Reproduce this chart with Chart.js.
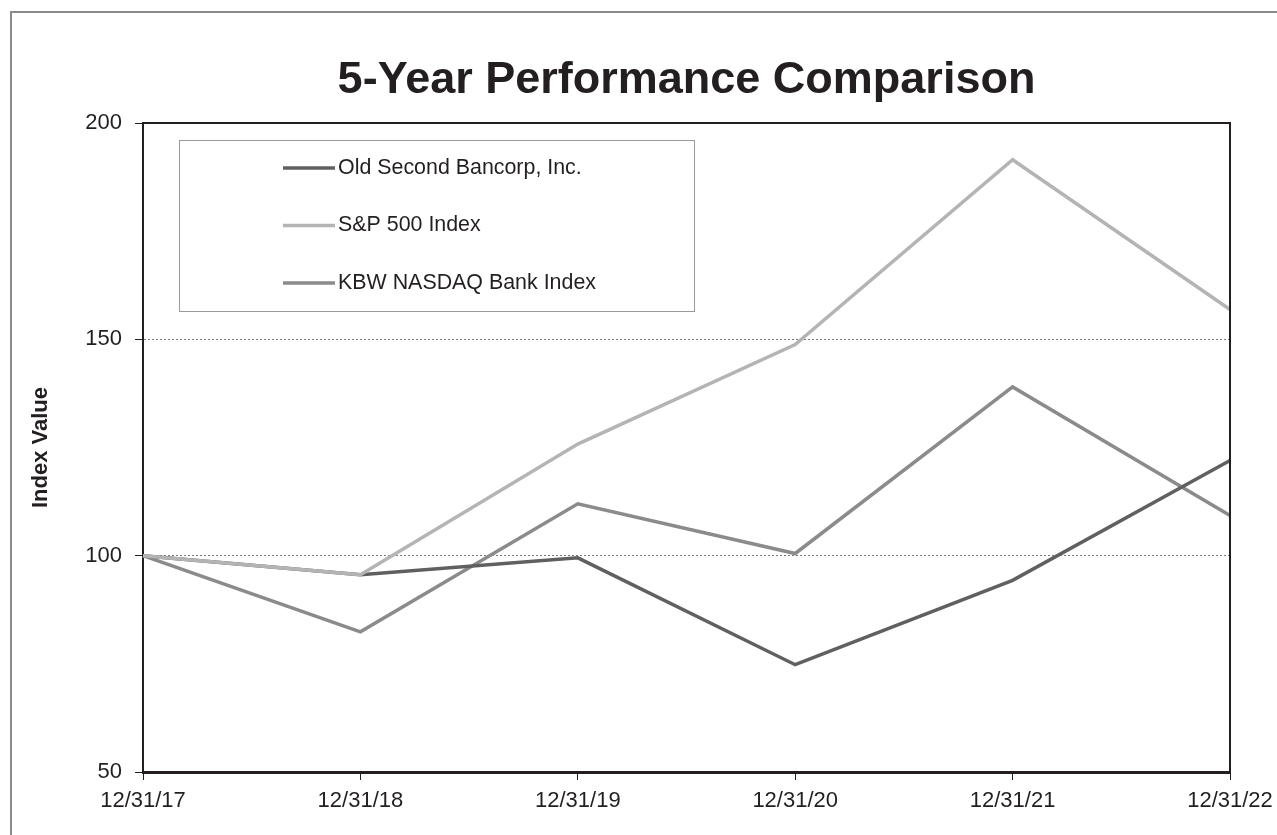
<!DOCTYPE html>
<html>
<head>
<meta charset="utf-8">
<title>5-Year Performance Comparison</title>
<script src="https://cdn.jsdelivr.net/npm/chart.js@4"></script>
<style>
  html, body { margin: 0; padding: 0; background: #fff; }
  #chart { display: block; }
</style>
</head>
<body>
<canvas id="chart" width="1277" height="835"></canvas>
<script>
const labels = ["12/31/17", "12/31/18", "12/31/19", "12/31/20", "12/31/21", "12/31/22"];
const oldSecond = [100, 95.6, 99.5, 74.8, 94.3, 122.0];
const sp500 = [100, 95.6, 125.8, 148.8, 191.5, 156.9];
const kbwBank = [100, 82.4, 112.0, 100.5, 139.0, 109.3];
const yTicks = [50, 100, 150, 200];

const FONT = '"Liberation Sans", Arial, sans-serif';
const INK = "#231f20";

// page frame, title, closing box lines and the boxed legend
const decorations = {
  id: "decorations",
  beforeDraw(chart) {
    const ctx = chart.ctx;
    ctx.save();
    ctx.fillStyle = "#fff";
    ctx.fillRect(0, 0, chart.width, chart.height);
    ctx.strokeStyle = "#8a8a8a";
    ctx.lineWidth = 2;
    ctx.strokeRect(11, 12, chart.width + 20, chart.height + 20);
    ctx.restore();
  },
  afterDraw(chart) {
    const ctx = chart.ctx;
    const a = chart.chartArea;
    ctx.save();
    ctx.fillStyle = INK;
    ctx.font = "bold 45px " + FONT;
    ctx.textAlign = "center";
    ctx.textBaseline = "middle";
    ctx.fillText("5-Year Performance Comparison", (a.left + a.right) / 2, 81);

    ctx.strokeStyle = INK;
    ctx.lineWidth = 2;
    ctx.beginPath();
    ctx.moveTo(a.left, a.top);
    ctx.lineTo(a.right, a.top);
    ctx.lineTo(a.right, a.bottom);
    ctx.stroke();

    // legend
    ctx.fillStyle = "#fff";
    ctx.fillRect(179, 140, 515, 171);
    ctx.strokeStyle = "#9a9a9a";
    ctx.lineWidth = 1;
    ctx.strokeRect(179.5, 140.5, 515, 171);
    ctx.font = "21.4px " + FONT;
    ctx.textAlign = "left";
    ctx.textBaseline = "middle";
    chart.data.datasets.forEach((ds, i) => {
      const y = 168 + i * 57.5;
      ctx.strokeStyle = ds.borderColor;
      ctx.lineWidth = 3.5;
      ctx.beginPath();
      ctx.moveTo(283, y);
      ctx.lineTo(335, y);
      ctx.stroke();
      ctx.fillStyle = INK;
      ctx.fillText(ds.label, 338, y);
    });
    ctx.restore();
  },
};

new Chart(document.getElementById("chart"), {
  type: "line",
  data: {
    labels,
    datasets: [
      { label: "Old Second Bancorp, Inc.", data: oldSecond, borderColor: "#606060", order: 1 },
      { label: "S&P 500 Index", data: sp500, borderColor: "#b4b4b4", order: 0 },
      { label: "KBW NASDAQ Bank Index", data: kbwBank, borderColor: "#8b8b8b", order: 2 },
    ],
  },
  options: {
    responsive: false,
    animation: false,
    layout: { padding: { left: 20, top: 123, right: 47, bottom: 13 } },
    elements: {
      line: { borderWidth: 3.5, tension: 0, fill: false },
      point: { radius: 0 },
    },
    plugins: {
      legend: { display: false },
      title: { display: false },
      tooltip: { enabled: false },
    },
    scales: {
      x: {
        offset: false,
        afterFit: (s) => { s.height = 50; s.paddingRight = 0; },
        grid: { drawOnChartArea: false, tickColor: INK, tickLength: 8 },
        border: { color: INK, width: 3 },
        ticks: { color: INK, font: { family: FONT, size: 22 }, padding: 8, maxRotation: 0, autoSkip: false },
      },
      y: {
        min: 50,
        max: 200,
        afterFit: (s) => { s.width = 123; },
        afterBuildTicks: (s) => { s.ticks = yTicks.map((v) => ({ value: v })); },
        grid: {
          color: (c) => (c.tick && (c.tick.value === 100 || c.tick.value === 150) ? "#7a7a7a" : "rgba(0,0,0,0)"),
          lineWidth: 1,
          tickColor: INK,
          tickLength: 8,
        },
        border: { color: INK, width: 2, dash: [2, 2] },
        ticks: { color: INK, font: { family: FONT, size: 22 }, padding: 13 },
        title: {
          display: true,
          text: "Index Value",
          color: INK,
          font: { family: FONT, size: 22, weight: "bold" },
          padding: { top: 8, bottom: 0 },
        },
      },
    },
  },
  plugins: [decorations],
});
</script>
</body>
</html>
